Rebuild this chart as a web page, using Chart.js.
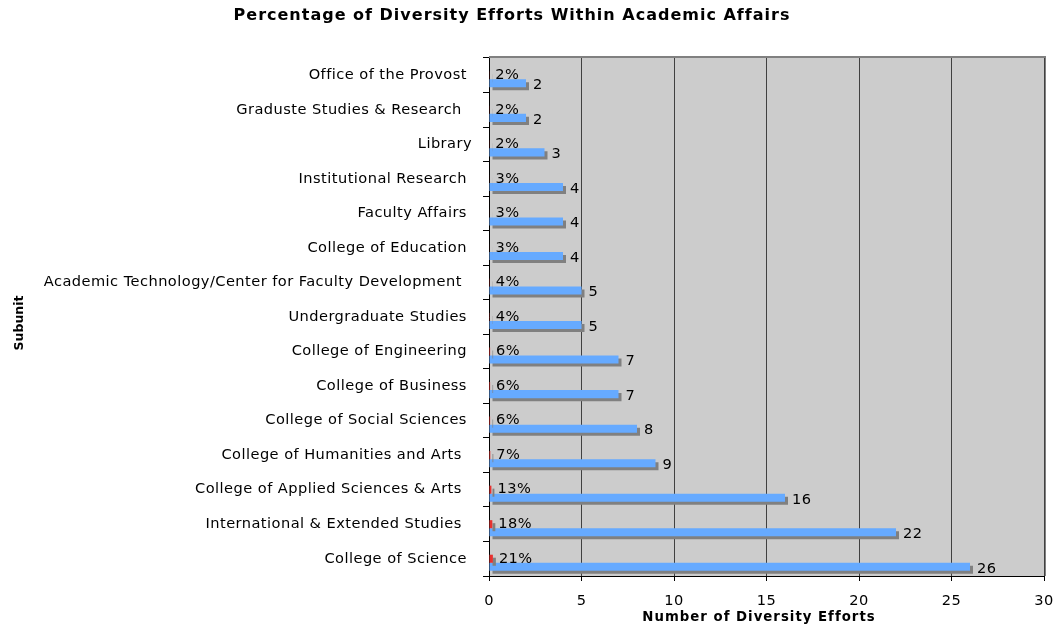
<!DOCTYPE html>
<html>
<head>
<meta charset="utf-8">
<script src="https://cdn.jsdelivr.net/npm/chart.js@4.4.1/dist/chart.umd.min.js"></script>
<style>
  html, body { margin: 0; padding: 0; background: #fff; }
  #wrap { width: 1057px; height: 627px; }
</style>
</head>
<body>
<div id="wrap"><canvas id="diversityChart" width="1057" height="627"></canvas></div>
<script>
"use strict";

// ----------------------------
// Data (top to bottom, as in the picture)
// ----------------------------
const subunits = [
  "Office of the Provost ",
  "Graduste Studies & Research  ",
  "Library",
  "Institutional Research ",
  "Faculty Affairs ",
  "College of Education ",
  "Academic Technology/Center for Faculty Development  ",
  "Undergraduate Studies ",
  "College of Engineering ",
  "College of Business ",
  "College of Social Sciences ",
  "College of Humanities and Arts  ",
  "College of Applied Sciences & Arts  ",
  "International & Extended Studies  ",
  "College of Science "
];
const effortCounts = [2, 2, 3, 4, 4, 4, 5, 5, 7, 7, 8, 9, 16, 22, 26];
const effortShares = [0.02, 0.02, 0.02, 0.03, 0.03, 0.03, 0.04, 0.04, 0.06, 0.06, 0.06, 0.07, 0.13, 0.18, 0.21];
const xTicks = [0, 5, 10, 15, 20, 25, 30];

const chartTitle = "Percentage of Diversity Efforts Within Academic Affairs";
const xTitle = "Number of Diversity Efforts";
const yTitle = "Subunit";

const FONT = "'DejaVu Sans', Verdana, sans-serif";
const TICK_SIZE = 14.6;
const TEXT_SPACING = "0.45px";

// a little letter spacing so DejaVu comes close to the original's Verdana
const textSpacing = {
  id: "textSpacing",
  beforeLayout(chart) { chart.ctx.letterSpacing = TEXT_SPACING; },
  beforeDraw(chart) { chart.ctx.letterSpacing = TEXT_SPACING; }
};

// plot background + frame
const plotBackground = {
  id: "plotBackground",
  beforeDraw(chart) {
    const { ctx, chartArea: a } = chart;
    ctx.save();
    ctx.fillStyle = "#cccccc";
    ctx.fillRect(a.left, a.top, a.right - a.left, a.bottom - a.top);
    ctx.strokeStyle = "#808080";
    ctx.lineWidth = 2;
    ctx.beginPath();
    ctx.moveTo(a.left, a.top - 1);
    ctx.lineTo(a.right + 1, a.top - 1);
    ctx.lineTo(a.right + 1, a.bottom);
    ctx.stroke();
    ctx.restore();
  }
};

// bar shadows and value labels
const barExtras = {
  id: "barExtras",
  beforeDatasetsDraw(chart) {
    const ctx = chart.ctx;
    ctx.save();
    ctx.shadowColor = "#808080";
    ctx.shadowOffsetX = 3;
    ctx.shadowOffsetY = 3;
    ctx.shadowBlur = 0;
  },
  afterDatasetsDraw(chart) {
    const ctx = chart.ctx;
    ctx.restore();
    ctx.save();
    ctx.font = TICK_SIZE + "px " + FONT;
    ctx.letterSpacing = TEXT_SPACING;
    ctx.fillStyle = "#000";
    ctx.textBaseline = "middle";
    ctx.textAlign = "left";
    chart.getDatasetMeta(1).data.forEach((bar, i) => {
      ctx.fillText(Math.round(effortShares[i] * 100) + "%", bar.x + 6, bar.y);
    });
    chart.getDatasetMeta(2).data.forEach((bar, i) => {
      ctx.fillText(String(effortCounts[i]), bar.x + 7, bar.y + 2);
    });
    ctx.restore();
  }
};

// titles drawn by hand so the bold text can be spaced like the original
const titles = {
  id: "titles",
  afterDraw(chart) {
    const ctx = chart.ctx;
    ctx.save();
    ctx.fillStyle = "#000";
    ctx.textAlign = "center";
    ctx.textBaseline = "alphabetic";

    ctx.font = "bold 16px " + FONT;
    ctx.letterSpacing = "1px";
    ctx.fillText(chartTitle, 512, 20);

    ctx.font = "bold 13.3px " + FONT;
    ctx.letterSpacing = "1px";
    ctx.fillText(xTitle, 759, 621);

    ctx.font = "bold 12.5px " + FONT;
    ctx.letterSpacing = "0px";
    ctx.translate(22.5, 323);
    ctx.rotate(-Math.PI / 2);
    ctx.fillText(yTitle, 0, 0);
    ctx.restore();
  }
};

const ctx = document.getElementById("diversityChart").getContext("2d");

new Chart(ctx, {
  type: "bar",
  data: {
    labels: subunits,
    datasets: [
      { label: "", data: subunits.map(() => null) },
      { label: "Percentage", data: effortShares, backgroundColor: "#e8312f" },
      { label: "Number", data: effortCounts, backgroundColor: "#66aaff" }
    ]
  },
  options: {
    indexAxis: "y",
    responsive: false,
    animation: false,
    devicePixelRatio: 1,
    categoryPercentage: 0.7,
    barPercentage: 1.0,
    layout: { padding: { left: 0, right: 13, top: 58, bottom: 0 } },
    plugins: {
      legend: { display: false },
      tooltip: { enabled: false },
      title: { display: false }
    },
    scales: {
      x: {
        min: 0,
        max: 30,
        afterBuildTicks: s => { s.ticks = xTicks.map(v => ({ value: v })); },
        afterFit: s => { s.height = 51; s.paddingLeft = 0; s.paddingRight = 0; },
        grid: { color: "#404040", tickColor: "#000", tickLength: 5, lineWidth: 1 },
        border: { color: "#000", width: 1 },
        ticks: { color: "#000", font: { family: FONT, size: TICK_SIZE }, padding: 11 }
      },
      y: {
        afterFit: s => { s.width = 489; },
        grid: { offset: true, drawOnChartArea: false, color: "#000", tickLength: 6 },
        border: { color: "#000", width: 1 },
        ticks: { color: "#000", font: { family: FONT, size: TICK_SIZE }, padding: 11, autoSkip: false }
      }
    }
  },
  plugins: [textSpacing, plotBackground, barExtras, titles]
});
</script>
</body>
</html>
